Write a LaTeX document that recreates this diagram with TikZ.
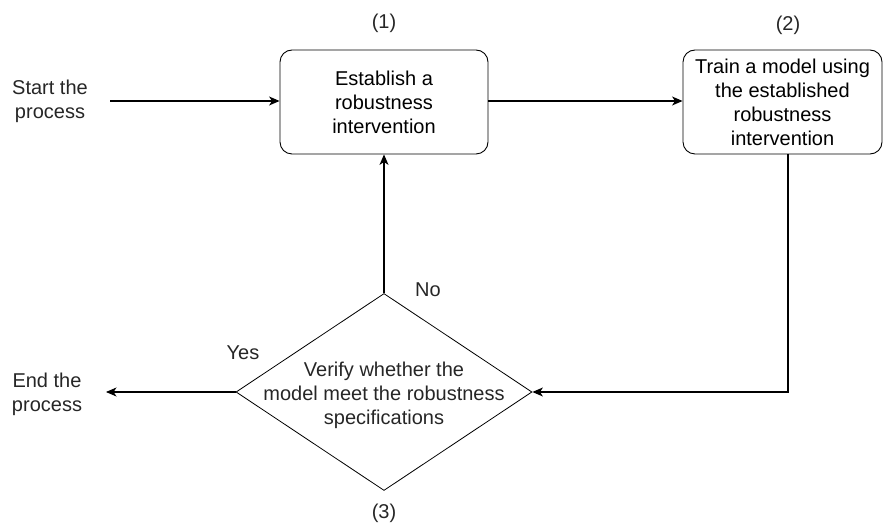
\documentclass[tikz,border=0pt]{standalone}
\usepackage{fontspec}
\setmainfont{Liberation Sans}
\usetikzlibrary{shapes.geometric,arrows.meta}

\begin{document}
\begin{tikzpicture}[x=1pt, y=1pt,
	stepbox/.style={draw, rounded corners=12pt, line width=0.9pt, align=center,
		minimum height=104pt, inner sep=0pt},
	check/.style={draw, diamond, line width=0.8pt, minimum width=296pt,
		minimum height=197pt, inner sep=0pt},
	label/.style={align=center, inner sep=0pt, text=black!85},
	flow/.style={line width=1.1pt, -{Stealth[length=10.5pt, width=9pt, inset=3pt]}}]
	\fontsize{20}{24}\selectfont
	\useasboundingbox (0, 0) rectangle (883, 522);
	\node [stepbox, minimum width=208pt] (est) at (384, 420) {Establish a\\robustness\\intervention};
	\node [stepbox, minimum width=199pt] (train) at (782.5, 420) {Train a model using\\the established\\robustness\\intervention};
	\node [check] (ver) at (384, 130) {};
	\node [label] (vertext) at (384, 127) {Verify whether the\\model meet the robustness\\specifications};
	\node [label] (start) at (50, 421) {Start the\\process};
	\node [label] (finish) at (47, 128) {End the\\process};
	\node [label] (one) at (384, 499) {(1)};
	\node [label] (two) at (788, 497) {(2)};
	\node [label] (three) at (384, 9) {(3)};
	\node [label] (no) at (428, 232) {No};
	\node [label] (yes) at (243, 169) {Yes};
	\coordinate (startend) at (110, 421);
	\coordinate (finishend) at (106, 130);
	\coordinate (turn) at (788, 130);
	\draw [flow] (startend) -- (est.west |- startend);
	\draw [flow] (est.east |- startend) -- (train.west |- startend);
	\draw [flow] (train.south -| turn) -- (turn) -- (ver.east);
	\draw [flow] (ver.north) -- (est.south);
	\draw [flow] (ver.west) -- (finishend);
\end{tikzpicture}
\end{document}
